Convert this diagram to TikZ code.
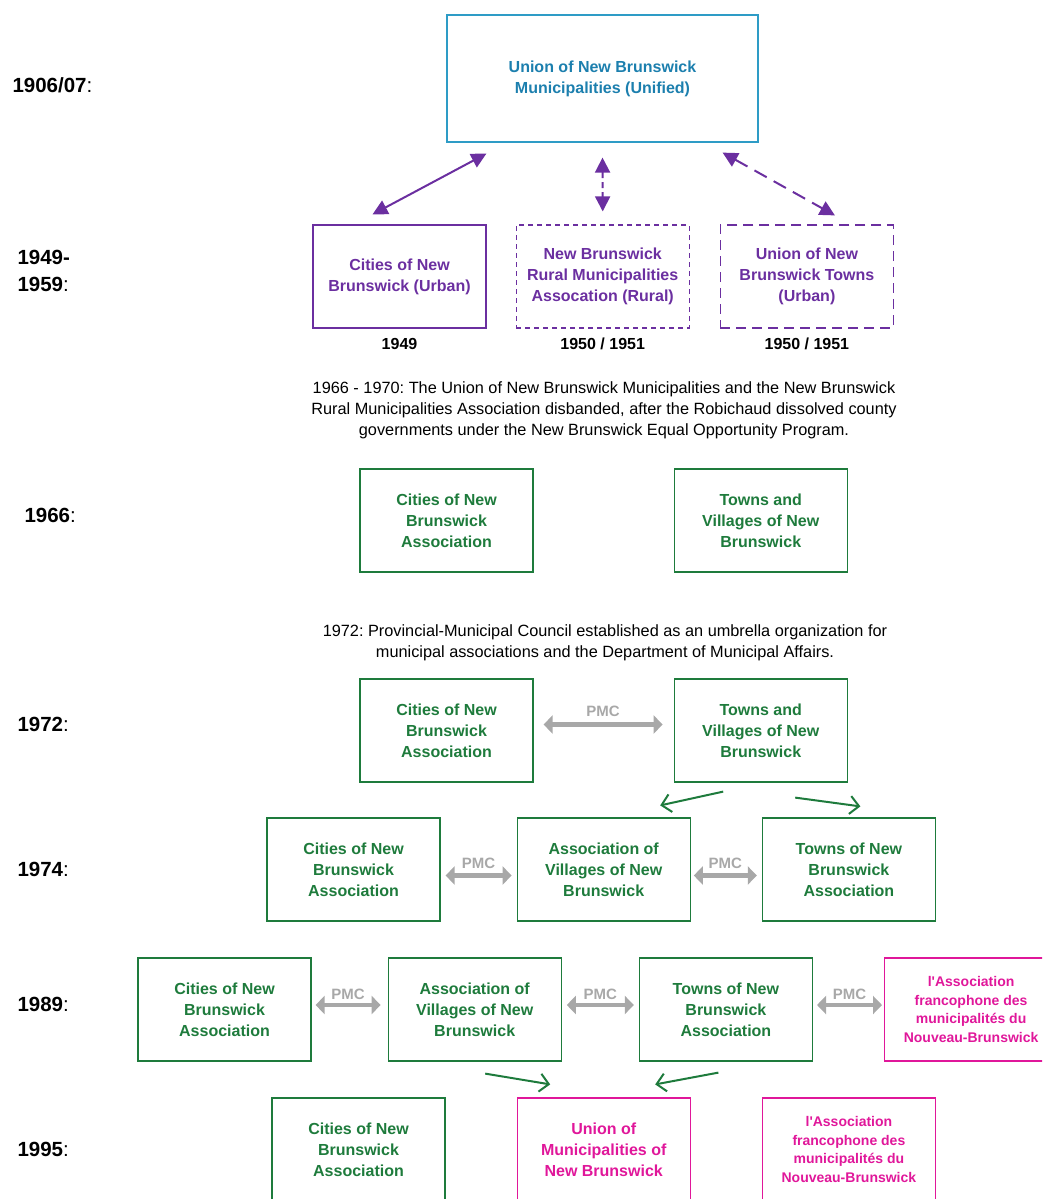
\documentclass[tikz,border=0pt]{standalone}
\usepackage{fontspec}
\setmainfont{Liberation Sans}
\usepackage{xcolor}
\usetikzlibrary{positioning}
\usetikzlibrary{arrows.meta}
\frenchspacing

\definecolor{unionblue}{HTML}{1C7FAE}
\definecolor{unionframe}{HTML}{2E9CC6}
\definecolor{assocpurple}{HTML}{6B2FA0}
\definecolor{assocgreen}{HTML}{1E7B3C}
\definecolor{assocpink}{HTML}{E0179A}
\definecolor{pmcgray}{HTML}{A8A8A8}

\begin{document}
\begin{tikzpicture}[x=1pt, y=-1pt,
yearlabel/.style={anchor=west, align=left, font=\fontsize{20.5}{27}\selectfont},
unionnode/.style={rectangle, draw=unionframe, line width=1.2pt, minimum width=311pt, minimum height=127pt, align=center, text=unionblue, font=\bfseries\fontsize{16}{21}\selectfont},
purplenode/.style={rectangle, draw=assocpurple, line width=1.2pt, minimum width=173pt, minimum height=103pt, align=center, text=assocpurple, font=\bfseries\fontsize{16}{21}\selectfont},
greennode/.style={rectangle, draw=assocgreen, line width=1.2pt, minimum width=173pt, minimum height=103pt, align=center, text=assocgreen, font=\bfseries\fontsize{16}{21}\selectfont},
pinknode/.style={rectangle, draw=assocpink, line width=1.2pt, minimum width=173pt, minimum height=103pt, align=center, text=assocpink, font=\bfseries\fontsize{16}{21}\selectfont},
franconode/.style={pinknode, font=\bfseries\fontsize{14}{18.5}\selectfont},
datenode/.style={font=\bfseries\fontsize{16}{20}\selectfont},
notenode/.style={align=center, font=\fontsize{16.3}{21}\selectfont},
purplearrow/.style={assocpurple, line width=2pt, {Triangle[length=15pt,width=15pt]}-{Triangle[length=15pt,width=15pt]}},
greenarrow/.style={assocgreen, line width=2pt, -{Straight Barb[length=9pt,width=18pt,line width=2pt]}},
pmcarrow/.style={pmcgray, line width=4.5pt, {Triangle[length=9pt,width=18pt]}-{Triangle[length=9pt,width=18pt]}},
pmclabel/.style={text=pmcgray, inner sep=1pt, font=\bfseries\fontsize{15}{18}\selectfont}]
\useasboundingbox (0,0) rectangle (1042,1199);
\clip (0,0) rectangle (1042,1199);

% year labels
\node[yearlabel] (y1906) at (9,85) {\textbf{1906/07}:};
\node[yearlabel] (y1949) at (14,271) {\textbf{1949-}\\\textbf{1959}:};
\node[yearlabel] (y1966) at (21,515) {\textbf{1966}:};
\node[yearlabel] (y1972) at (14,724) {\textbf{1972}:};
\node[yearlabel] (y1974) at (14,869) {\textbf{1974}:};
\node[yearlabel] (y1989) at (14,1004) {\textbf{1989}:};
\node[yearlabel] (y1995) at (14,1149) {\textbf{1995}:};

% 1906/07 and 1949-1959
\node[unionnode] (union) at (602.5,78.5) {Union of New Brunswick\\Municipalities (Unified)};
\node[purplenode] (cities49) at (399.5,276.5) {Cities of New\\Brunswick (Urban)};
\node[purplenode, dash pattern=on 5pt off 4pt] (rural49) [right=29pt of cities49] {New Brunswick\\Rural Municipalities\\Assocation (Rural)};
\node[purplenode, dash pattern=on 10pt off 6pt] (towns49) [right=30pt of rural49] {Union of New\\Brunswick Towns\\(Urban)};
\node[datenode] (d1949) [below=6pt of cities49] {1949};
\node[datenode] (d1950a) [below=6pt of rural49] {1950 / 1951};
\node[datenode] (d1950b) [below=6pt of towns49] {1950 / 1951};

\draw[purplearrow] ([xshift=-27pt,yshift=10pt]cities49.north) -- ([xshift=40pt,yshift=-11pt]union.south west);
\draw[purplearrow, dash pattern=on 6pt off 4pt] ([yshift=-15pt]union.south) -- ([yshift=13pt]rural49.north);
\draw[purplearrow, dash pattern=on 14pt off 8pt] ([xshift=-36pt,yshift=-10pt]union.south east) -- ([xshift=28pt,yshift=9pt]towns49.north);

\node[notenode] (note1966) at (604,410) {1966 - 1970: The Union of New Brunswick Municipalities and the New Brunswick\\Rural Municipalities Association disbanded, after the Robichaud dissolved county\\governments under the New Brunswick Equal Opportunity Program.};

% 1966
\node[greennode] (cities66) at (446.5,520.5) {Cities of New\\Brunswick\\Association};
\node[greennode] (towns66) [right=140pt of cities66] {Towns and\\Villages of New\\Brunswick};

\node[notenode] (note1972) at (605,643) {1972: Provincial-Municipal Council established as an umbrella organization for\\municipal associations and the Department of Municipal Affairs.};

% 1972
\node[greennode] (cities72) at (446.5,730.5) {Cities of New\\Brunswick\\Association};
\node[greennode] (towns72) [right=140pt of cities72] {Towns and\\Villages of New\\Brunswick};
\draw[pmcarrow] ([xshift=10pt,yshift=6pt]cities72.east) -- node[pmclabel, above=5pt] {PMC} ([xshift=-11pt,yshift=6pt]towns72.west);

% 1974
\node[greennode] (cities74) at (353.5,869.5) {Cities of New\\Brunswick\\Association};
\node[greennode] (villages74) [right=76pt of cities74] {Association of\\Villages of New\\Brunswick};
\node[greennode] (towns74) [right=71pt of villages74] {Towns of New\\Brunswick\\Association};
\draw[pmcarrow] ([xshift=5pt,yshift=-6pt]cities74.east) -- node[pmclabel, above=4pt] {PMC} ([xshift=-5pt,yshift=-6pt]villages74.west);
\draw[pmcarrow] ([xshift=3pt,yshift=-6pt]villages74.east) -- node[pmclabel, above=4pt] {PMC} ([xshift=-5pt,yshift=-6pt]towns74.west);

\draw[greenarrow] ([xshift=-37.5pt,yshift=-9pt]towns72.south) -- ([xshift=56.5pt,yshift=12pt]villages74.north);
\draw[greenarrow] ([xshift=34.5pt,yshift=-15pt]towns72.south) -- ([xshift=11.5pt,yshift=11pt]towns74.north);

% 1989
\node[greennode] (cities89) at (224.5,1009.5) {Cities of New\\Brunswick\\Association};
\node[greennode] (villages89) [right=76pt of cities89] {Association of\\Villages of New\\Brunswick};
\node[greennode] (towns89) [right=77pt of villages89] {Towns of New\\Brunswick\\Association};
\node[franconode] (franco89) [right=71pt of towns89] {l\textquotesingle Association\\francophone des\\municipalités du\\Nouveau-Brunswick};
\draw[pmcarrow] ([xshift=4pt,yshift=4.5pt]cities89.east) -- node[pmclabel, above=2pt] {PMC} ([xshift=-7pt,yshift=4.5pt]villages89.west);
\draw[pmcarrow] ([xshift=5pt,yshift=4.5pt]villages89.east) -- node[pmclabel, above=2pt] {PMC} ([xshift=-5pt,yshift=4.5pt]towns89.west);
\draw[pmcarrow] ([xshift=4pt,yshift=4.5pt]towns89.east) -- node[pmclabel, above=2pt] {PMC} ([xshift=-2pt,yshift=4.5pt]franco89.west);

% 1995
\node[greennode] (cities95) at (358.5,1149.5) {Cities of New\\Brunswick\\Association};
\node[pinknode] (union95) [right=71pt of cities95] {Union of\\Municipalities of\\New Brunswick};
\node[franconode] (franco95) [right=71pt of union95] {l\textquotesingle Association\\francophone des\\municipalités du\\Nouveau-Brunswick};

\draw[greenarrow] ([xshift=10.5pt,yshift=-12pt]villages89.south) -- ([xshift=-53.5pt,yshift=13pt]union95.north);
\draw[greenarrow] ([xshift=-7.5pt,yshift=-11pt]towns89.south) -- ([xshift=51.5pt,yshift=13pt]union95.north);
\end{tikzpicture}
\end{document}
